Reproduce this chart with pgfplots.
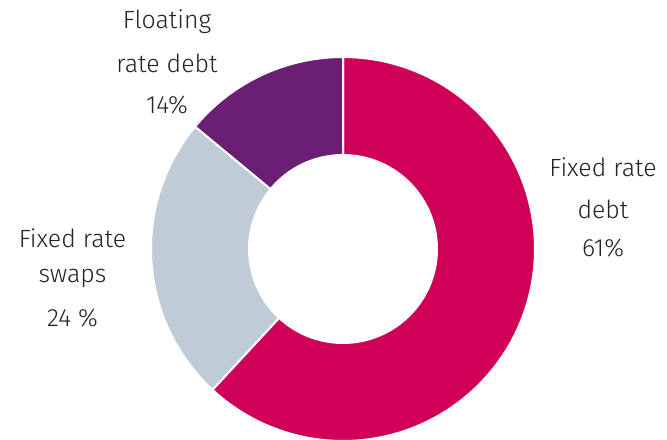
\documentclass[border=0pt]{standalone}
\usepackage{pgfplots}
\pgfplotsset{compat=1.18}
\usepackage{fontspec}
\setmainfont{Fira Sans}[UprightFont=* Light]
\definecolor{cpink}{RGB}{208,0,88}
\definecolor{cgrey}{RGB}{191,204,215}
\definecolor{cpurple}{RGB}{106,31,117}
\definecolor{ctext}{RGB}{34,34,34}
% shares (percent), clockwise from 12 o'clock
\def\vDebt{61.9}
\def\vSwap{24.1}
\def\vFloat{14.0}
\pgfmathsetmacro{\aA}{90}
\pgfmathsetmacro{\aB}{\aA-3.6*\vDebt}
\pgfmathsetmacro{\aC}{\aB-3.6*\vSwap}
\pgfmathsetmacro{\aD}{\aC-3.6*\vFloat}
\begin{document}
\begin{tikzpicture}
\begin{axis}[
  scale only axis, width=667bp, height=440bp,
  xmin=0, xmax=667, ymin=0, ymax=440, y dir=reverse,
  hide axis, clip=false,
]
\addplot[fill=cpink, draw=white, line width=2bp, domain=\aB:\aA, samples=120, variable=\t]
  ({343+192*cos(t)}, {249-192*sin(t)}) -- (axis cs:343,249) -- cycle;
\addplot[fill=cgrey, draw=white, line width=2bp, domain=\aC:\aB, samples=60, variable=\t]
  ({343+192*cos(t)}, {249-192*sin(t)}) -- (axis cs:343,249) -- cycle;
\addplot[fill=cpurple, draw=white, line width=2bp, domain=\aD:\aC, samples=40, variable=\t]
  ({343+192*cos(t)}, {249-192*sin(t)}) -- (axis cs:343,249) -- cycle;
\addplot[fill=white, draw=none, domain=0:360, samples=120, variable=\t]
  ({343+95*cos(t)}, {249-95*sin(t)}) -- cycle;
\begin{scope}[every node/.style={text=ctext, font=\fontsize{25}{30}\selectfont, inner sep=0pt}]
\node at (axis cs:167,22) {Floating};
\node at (axis cs:167,63) {rate debt};
\node at (axis cs:167,105) {14\%};
\node at (axis cs:72.5,238) {Fixed rate};
\node at (axis cs:72.5,278) {swaps};
\node at (axis cs:72.5,318) {24 \%};
\node at (axis cs:603,167) {Fixed rate};
\node at (axis cs:603,209) {debt};
\node at (axis cs:603,248) {61\%};
\end{scope}
\end{axis}
\pgfresetboundingbox
\path[use as bounding box] (0,0) rectangle (667bp,440bp);
\end{tikzpicture}
\end{document}
